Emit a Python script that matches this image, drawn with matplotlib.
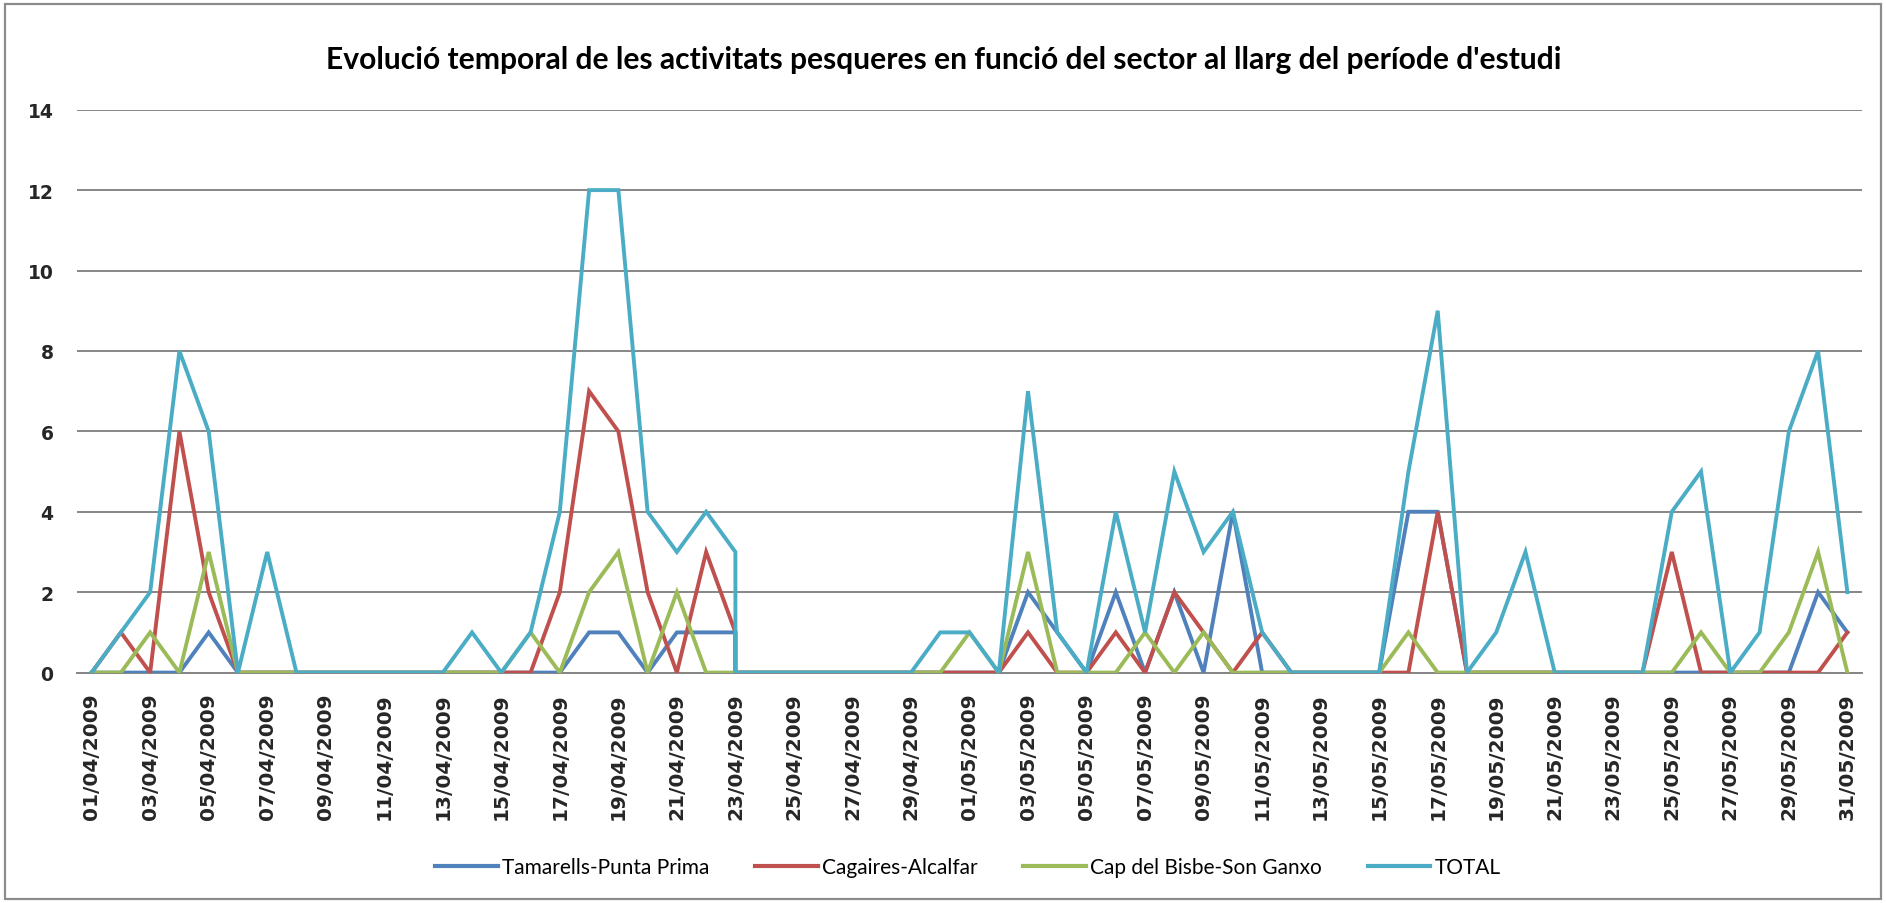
import numpy as np
import pandas as pd
import matplotlib
matplotlib.use("Agg")
import matplotlib.pyplot as plt
from matplotlib.patches import Rectangle

title = "Evolució temporal de les activitats pesqueres en funció del sector al llarg del període d'estudi"
series_names = ["Tamarells-Punta Prima", "Cagaires-Alcalfar", "Cap del Bisbe-Son Ganxo", "TOTAL"]
colors = ["#4F81BD", "#C0504D", "#9BBB59", "#4BACC6"]

# dates of the rows (23/04/2009 appears twice in the source table)
dates = [d.strftime("%d/%m/%Y") for d in pd.date_range("2009-04-01", "2009-05-31")]
dates.insert(23, "23/04/2009")

tamarells = [0, 0, 0, 0, 1, 0, 0, 0, 0, 0,
             0, 0, 0, 0, 0, 0, 0, 1, 1, 0,
             1, 1, 1, 0,
             0, 0, 0, 0, 0, 0, 0,
             0, 0, 2, 1, 0, 2, 0, 2, 0, 4,
             0, 0, 0, 0, 0, 4, 4, 0, 0, 0,
             0, 0, 0, 0, 0, 0, 0, 0, 0, 2, 1]
cagaires = [0, 1, 0, 6, 2, 0, 0, 0, 0, 0,
            0, 0, 0, 0, 0, 0, 2, 7, 6, 2,
            0, 3, 1, 0,
            0, 0, 0, 0, 0, 0, 0,
            0, 0, 1, 0, 0, 1, 0, 2, 1, 0,
            1, 0, 0, 0, 0, 0, 4, 0, 0, 0,
            0, 0, 0, 0, 3, 0, 0, 0, 0, 0, 1]
cap_bisbe = [0, 0, 1, 0, 3, 0, 0, 0, 0, 0,
             0, 0, 0, 0, 0, 1, 0, 2, 3, 0,
             2, 0, 0, 0,
             0, 0, 0, 0, 0, 0, 0,
             1, 0, 3, 0, 0, 0, 1, 0, 1, 0,
             0, 0, 0, 0, 0, 1, 0, 0, 0, 0,
             0, 0, 0, 0, 0, 1, 0, 0, 1, 3, 0]
total = [0, 1, 2, 8, 6, 0, 3, 0, 0, 0,
         0, 0, 0, 1, 0, 1, 4, 12, 12, 4,
         3, 4, 3, 0,
         0, 0, 0, 0, 0, 0, 1,
         1, 0, 7, 1, 0, 4, 1, 5, 3, 4,
         1, 0, 0, 0, 0, 5, 9, 0, 1, 3,
         0, 0, 0, 0, 4, 5, 0, 1, 6, 8, 2]
y_ticks = [0, 2, 4, 6, 8, 10, 12, 14]

W, H = 1886, 904
fig = plt.figure(figsize=(W / 100, H / 100), dpi=100)
fig.patch.set_facecolor("white")

# chart area border
fig.add_artist(Rectangle((5 / W, 4 / H), (W - 10) / W, (H - 9) / H, transform=fig.transFigure,
                         fill=False, edgecolor="#8c8c8c", linewidth=1.6))

ax_l, ax_r, ax_t, ax_b = 77, 1862, 110.7, 673.6
ax = fig.add_axes([ax_l / W, 1 - ax_b / H, (ax_r - ax_l) / W, (ax_b - ax_t) / H])

dt = pd.to_datetime(dates, format="%d/%m/%Y")
x = np.array((dt - dt[0]).days, dtype=float)

for vals, name, c in zip([tamarells, cagaires, cap_bisbe, total], series_names, colors):
    ax.plot(x, vals, color=c, lw=2.8, label=name, solid_joinstyle="miter", zorder=3)

ax.set_xlim(-0.5, x.max() + 0.5)
ax.set_ylim(0, 14)
ax.set_yticks(y_ticks)
ax.set_yticklabels([str(v) for v in y_ticks], fontsize=13.5, fontweight="bold",
                   family="DejaVu Sans", color="#262626")
ax.yaxis.grid(True, color="#868686", lw=1.4)
ax.set_axisbelow(True)
for s in ["top", "right", "left"]:
    ax.spines[s].set_visible(False)
ax.spines["bottom"].set_color("#868686")
ax.spines["bottom"].set_linewidth(1.4)

uniq = sorted(set(x.tolist()))
tick_pos = uniq[::2]
lab_map = dict(zip(x.tolist(), dates))
ax.set_xticks(tick_pos)
ax.set_xticklabels([lab_map[p] for p in tick_pos], rotation=90, fontsize=14.5,
                   fontweight="semibold", family="DejaVu Sans", color="#262626")
ax.tick_params(axis="x", length=0, pad=14)
ax.tick_params(axis="y", length=0, pad=17)

t = fig.text(944 / W, 1 - 60 / H, title, ha="center", va="center",
             fontsize=18, fontweight="bold", family="Lato", color="black")
fig.canvas.draw()
r = fig.canvas.get_renderer()
w = t.get_window_extent(r).width
t.set_fontsize(18 * 1237 / w)

leg = fig.legend(loc="center", bbox_to_anchor=(968 / W, 1 - 868 / H), ncol=4, frameon=False,
                 prop={"family": "Lato", "size": 15}, handlelength=3.0, handletextpad=0.2,
                 columnspacing=2.2)
for ln in leg.get_lines():
    ln.set_linewidth(3)

fig.savefig("out.png", dpi=100, facecolor="white")
